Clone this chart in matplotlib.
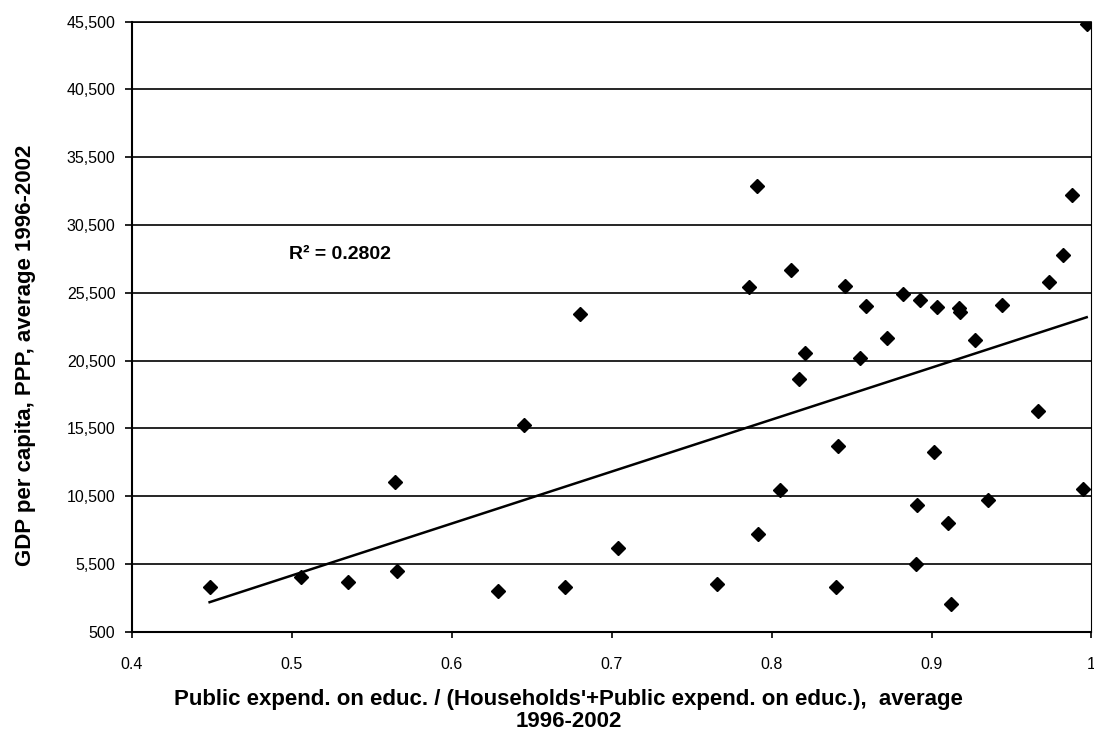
import numpy as np
import matplotlib
matplotlib.use('Agg')
import matplotlib.pyplot as plt

plt.rcParams['font.family'] = ['Liberation Sans', 'DejaVu Sans']

# share of public expenditure in total education expenditure
share = [0.997, 0.791, 0.988, 0.982, 0.812, 0.9735, 0.786, 0.846, 0.882, 0.8925,
         0.680, 0.859, 0.9035, 0.917, 0.918, 0.944, 0.872, 0.927, 0.821, 0.855,
         0.4485, 0.5056, 0.535, 0.5646, 0.5657, 0.629, 0.645,
         0.8168, 0.9668, 0.8416, 0.9015, 0.805, 0.995, 0.935, 0.891, 0.910,
         0.7916, 0.7038, 0.890, 0.671, 0.766, 0.840, 0.912]
# gdp per capita, ppp
gdp = [45330, 33350, 32700, 28260, 27170, 26310, 25940, 26000, 25400, 25000,
       23900, 24540, 24440, 24340, 24090, 24590, 22170, 22050, 21070, 20670,
       3820, 4510, 4150, 11530, 4980, 3500, 15720,
       19100, 16760, 14170, 13730, 10970, 11020, 10230, 9830, 8480,
       7720, 6630, 5520, 3800, 4020, 3800, 2520]

yticks = np.arange(500, 45501, 5000)
xticks = [0.4, 0.5, 0.6, 0.7, 0.8, 0.9, 1.0]
xticklabels = ['0.4', '0.5', '0.6', '0.7', '0.8', '0.9', '1']

fig = plt.figure(figsize=(10.94, 7.34), dpi=100)
ax = fig.add_axes([0.1207, 0.1396, 0.877, 0.8308])

# horizontal grid
for yv in yticks:
    ax.axhline(yv, color='black', lw=1.2, zorder=1)

ax.plot(share, gdp, 'D', color='black', markersize=7.5, zorder=3)

# linear trend
k, b = np.polyfit(share, gdp, 1)
xs = np.array([min(share), max(share)])
ax.plot(xs, k * xs + b, color='black', lw=1.8, zorder=2)

ax.text(0.498, 28300, 'R² = 0.2802', fontsize=14, fontweight='bold', va='center')

ax.set_xlim(0.4, 1.0)
ax.set_ylim(500, 45500)
ax.set_yticks(yticks)
ax.set_yticklabels([f'{v:,}' for v in yticks])
ax.set_xticks(xticks)
ax.set_xticklabels(xticklabels)
ax.tick_params(axis='y', direction='out', length=5, width=1.2, pad=7, labelsize=11.5)
ax.tick_params(axis='x', direction='out', length=4, width=1.2, pad=14, labelsize=11.5)

for s in ['left', 'bottom']:
    ax.spines[s].set_linewidth(1.5)
ax.spines['top'].set_linewidth(1.2)
ax.spines['right'].set_linewidth(0.8)

fig.text(0.023, 0.516, 'GDP per capita, PPP, average 1996-2002', rotation=90,
         fontsize=16, fontweight='bold', ha='center', va='center')
fig.text(0.52, 0.032,
         "Public expend. on educ. / (Households'+Public expend. on educ.),  average\n1996-2002",
         fontsize=16, fontweight='bold', ha='center', va='center', linespacing=1.08)

fig.savefig('out.png', dpi=100)
